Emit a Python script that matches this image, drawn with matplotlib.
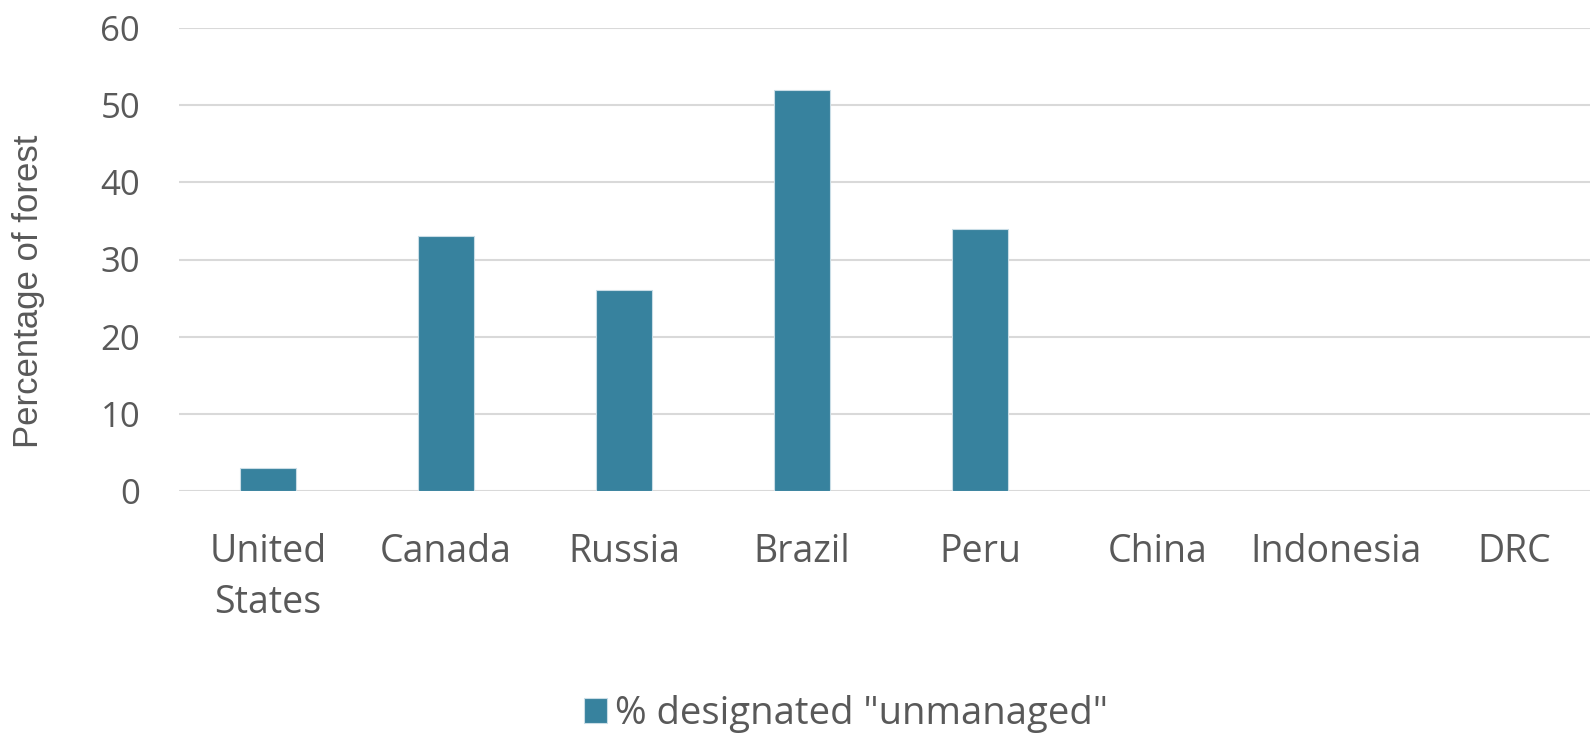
import matplotlib.pyplot as plt
import numpy as np

# data
countries = ['United\nStates', 'Canada', 'Russia', 'Brazil', 'Peru', 'China', 'Indonesia', 'DRC']
unmanaged = [3, 33, 26, 52, 34, 0, 0, 0]
series_name = '% designated "unmanaged"'
yticks = [0, 10, 20, 30, 40, 50, 60]

bar_color = '#37829E'
text_color = '#595959'
grid_color = '#D9D9D9'

plt.rcParams['font.family'] = ['Open Sans', 'DejaVu Sans']

fig = plt.figure(figsize=(15.9, 7.33), dpi=100)
# axes runs a bit past the right edge like the original
ax = fig.add_axes([179 / 1590, 1 - 491 / 733, 1424 / 1590, 463 / 733])

x = np.arange(len(countries))
ax.bar(x, unmanaged, width=0.315, color=bar_color, label=series_name,
       edgecolor='#C9DDE6', linewidth=0.8, zorder=3)

ax.set_xlim(-0.5, len(countries) - 0.5)
ax.set_ylim(0, 60)
ax.set_yticks(yticks)
ax.yaxis.grid(True, color=grid_color, linewidth=1.5, zorder=0)
for s in ax.spines.values():
    s.set_visible(False)
ax.axhline(0, color=grid_color, linewidth=2, zorder=2)

ax.set_xticks(x)
ax.set_xticklabels(countries, fontsize=27, color=text_color, linespacing=1.45)
ax.tick_params(axis='x', length=0, pad=30)
ax.tick_params(axis='y', length=0, pad=28, labelsize=25, labelcolor=text_color)

ax.set_ylabel('Percentage of forest', fontsize=25, color=text_color,
              family=['Liberation Sans', 'DejaVu Sans'])
ax.yaxis.set_label_coords(-0.094, 0.432)

fig.legend(loc='center', bbox_to_anchor=(0.532, 0.026), frameon=False,
           fontsize=27.5, labelcolor=text_color, handlelength=0.6, handleheight=0.6,
           handletextpad=0.2)

fig.savefig('out.png', dpi=100)
